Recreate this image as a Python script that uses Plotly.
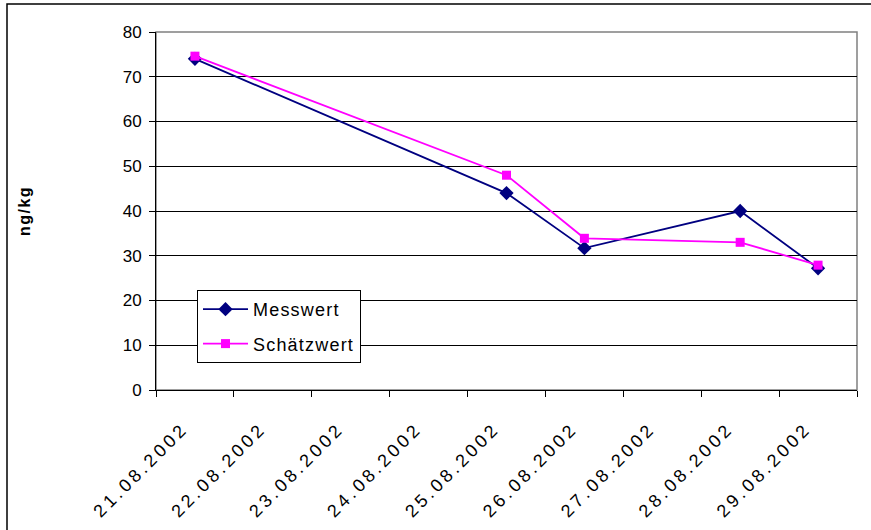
import plotly.graph_objects as go

categories = ["21.08.2002", "22.08.2002", "23.08.2002", "24.08.2002", "25.08.2002",
              "26.08.2002", "27.08.2002", "28.08.2002", "29.08.2002"]
mess_dates = ["21.08.2002", "25.08.2002", "26.08.2002", "28.08.2002", "29.08.2002"]
messwert = [74, 44, 31.7, 40, 27.2]
schaetzwert = [74.6, 48, 33.9, 33, 27.9]
series_names = ["Messwert", "Schätzwert"]
y_title = "ng/kg"

W, H = 871, 530
ML, MR, MT, MB = 156, 14, 32, 140
pw, ph = W - ML - MR, H - MT - MB

def px2x(px):
    return (px - ML) / pw

def py2y(py):
    return (H - MB - py) / ph

def spaced(t, s):
    return '<span style="letter-spacing:%spx">%s</span>' % (s, t)

font = "Arial, Liberation Sans, sans-serif"

fig = go.Figure()
fig.add_trace(go.Scatter(
    x=mess_dates, y=messwert, name=spaced(series_names[0], 1.2), mode="lines+markers",
    line=dict(color="#000080", width=1.8),
    marker=dict(symbol="diamond", size=11, color="#000080"),
    legendgroup="a",
))
fig.add_trace(go.Scatter(
    x=mess_dates, y=schaetzwert, name=spaced(series_names[1], 1.2), mode="lines+markers",
    line=dict(color="#FF00FF", width=1.8),
    marker=dict(symbol="square", size=9, color="#FF00FF"),
    legendgroup="b",
))

fig.update_layout(
    width=W, height=H,
    margin=dict(l=ML, r=MR, t=MT, b=MB, autoexpand=False),
    paper_bgcolor="white", plot_bgcolor="white",
    font=dict(family=font, size=17, color="black"),
    showlegend=True,
    legend=dict(
        x=px2x(197), y=py2y(290), xanchor="left", yanchor="top",
        bordercolor="black", borderwidth=1, bgcolor="white",
        font=dict(size=18), tracegroupgap=8, itemwidth=45,
    ),
    xaxis=dict(
        type="category", categoryorder="array", categoryarray=categories,
        tickvals=categories, ticktext=[spaced(c, 3.5) for c in categories],
        range=[-0.5, 8.5], tickson="boundaries",
        ticks="outside", ticklen=6, tickcolor="black", tickwidth=1,
        showline=True, linecolor="black", linewidth=1,
        showgrid=False, zeroline=False, tickangle=-45,
        tickfont=dict(size=18), ticklabelstandoff=20, ticklabelshift=-12,
    ),
    yaxis=dict(
        range=[0, 80], dtick=10, tick0=0,
        ticks="outside", ticklen=6, tickcolor="black", tickwidth=1,
        showline=True, linecolor="black", linewidth=1,
        showgrid=True, gridcolor="black", gridwidth=1, zeroline=False,
        tickfont=dict(size=17), ticklabelstandoff=4,
        title=dict(text="<b>" + spaced(y_title, 1.5) + "</b>", font=dict(size=16), standoff=88),
    ),
    shapes=[
        dict(type="rect", xref="paper", yref="paper", x0=0, x1=1, y0=0, y1=1,
             line=dict(color="#808080", width=1.5), layer="below"),
        dict(type="rect", xref="paper", yref="paper",
             x0=px2x(7), x1=px2x(W + 50), y0=py2y(H + 50), y1=py2y(4),
             line=dict(color="black", width=1.5), layer="above"),
    ],
)

fig.write_html("out.html", config={"displayModeBar": False},
               post_script="document.body.style.margin='0px';document.body.style.overflow='hidden';")
